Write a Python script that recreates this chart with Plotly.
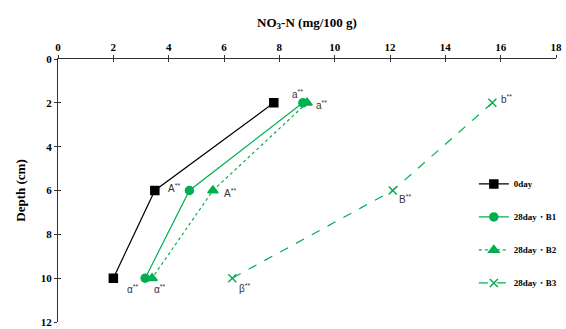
import plotly.graph_objects as go

# Soil nitrate profile: NO3-N concentration by depth
depth = [2, 6, 10]
day0 = [7.8, 3.5, 2.0]
b1 = [8.85, 4.75, 3.15]
b2 = [9.0, 5.6, 3.4]
b3 = [15.7, 12.1, 6.3]

names = ["0day", "28day・B1", "28day・B2", "28day・B3"]
x_ticks = [0, 2, 4, 6, 8, 10, 12, 14, 16, 18]
y_ticks = [0, 2, 4, 6, 8, 10, 12]

GREEN = "#00B050"
SERIF = "Liberation Serif"
SANS = "Liberation Sans"

# significance letters: (series values, point index, text, dx, dy)
letters = [
    (b1, 0, "a", -5, -9),
    (b2, 0, "a", 14, 2),
    (b1, 1, "A", -15, -3),
    (b2, 1, "A", 17, 2),
    (b1, 2, "α", -12, 11),
    (b2, 2, "α", 8, 11),
    (b3, 0, "b", 14, -4),
    (b3, 1, "B", 12, 8),
    (b3, 2, "β", 12, 10),
]

fig = go.Figure()
styles = [
    (day0, "black", "solid", "square", 8),
    (b1, GREEN, "solid", "circle", 8),
    (b2, GREEN, "dot", "triangle-up", 9),
    (b3, GREEN, "dash", "x-thin-open", 8),
]
for i, (vals, col, dash, sym, sz) in enumerate(styles):
    fig.add_trace(go.Scatter(
        x=vals, y=depth, name=names[i], mode="lines+markers",
        legendgroup=names[i],
        line=dict(color=col, width=1.2, dash=dash),
        marker=dict(symbol=sym, size=sz, color=col,
                    line=dict(color=col, width=1.5)),
    ))

for vals, idx, txt, dx, dy in letters:
    fig.add_annotation(
        x=vals[idx], y=depth[idx], text=f"{txt}<sup>**</sup>",
        showarrow=False, xshift=dx, yshift=-dy,
        font=dict(family=SANS, size=10, color="#333333"),
    )

tick_font = dict(family=SERIF, size=11, color="black", weight="bold")
title_font = dict(family=SERIF, size=13, color="black", weight="bold")

fig.update_layout(
    width=566, height=329,
    margin=dict(l=58, r=10, t=59, b=7, autoexpand=False),
    paper_bgcolor="white", plot_bgcolor="white",
    showlegend=True,
    legend=dict(
        x=0.835, y=0.58, xanchor="left", yanchor="top",
        font=dict(family=SERIF, size=9, color="black", weight="bold"),
        tracegroupgap=14, itemwidth=30, bgcolor="rgba(0,0,0,0)",
    ),
    xaxis=dict(
        side="top", range=[0, 18], tickvals=x_ticks, automargin=False,
        showgrid=False, zeroline=False, showline=True,
        linecolor="#333333", linewidth=1,
        ticks="outside", ticklen=3, tickcolor="#333333",
        tickfont=tick_font,
        title=dict(text="NO<sub>3</sub>-N (mg/100 g)", standoff=10, font=title_font),
    ),
    yaxis=dict(
        range=[12, 0], tickvals=y_ticks, automargin=False,
        showgrid=False, zeroline=False, showline=True,
        linecolor="#333333", linewidth=1,
        ticks="outside", ticklen=3, tickcolor="#333333",
        tickfont=tick_font,
        title=dict(text="Depth (cm)", standoff=12, font=title_font),
    ),
    # companion axes supplying the inner half of each cross tick
    xaxis2=dict(
        overlaying="x", side="top", range=[0, 18], tickvals=x_ticks,
        showticklabels=False, showgrid=False, zeroline=False, showline=False,
        ticks="inside", ticklen=3, tickcolor="#333333", automargin=False,
    ),
    yaxis2=dict(
        overlaying="y", side="left", range=[12, 0], tickvals=y_ticks,
        showticklabels=False, showgrid=False, zeroline=False, showline=False,
        ticks="inside", ticklen=3, tickcolor="#333333", automargin=False,
    ),
)

# invisible trace anchoring the companion axes
fig.add_trace(go.Scatter(x=[None], y=[None], xaxis="x2", yaxis="y2",
                         showlegend=False, hoverinfo="skip"))

fig.write_html("out.html")
